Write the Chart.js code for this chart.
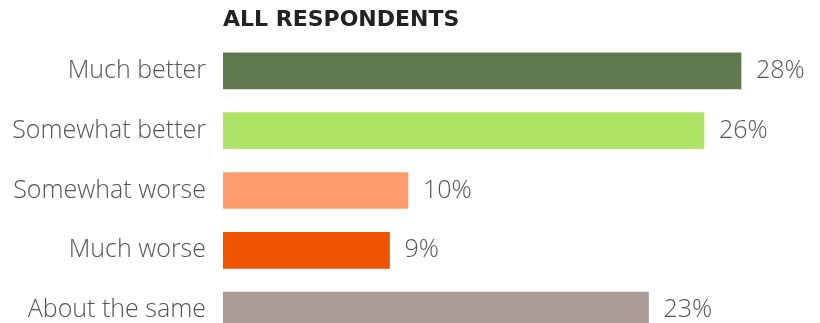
<!DOCTYPE html>
<html>
<head>
<meta charset="utf-8">
<script src="https://cdn.jsdelivr.net/npm/chart.js@4"></script>
<style>
  html, body { margin: 0; padding: 0; background: #fff; width: 820px; height: 323px; overflow: hidden; }
  canvas { display: block; }
</style>
</head>
<body>
<canvas id="chart" width="820" height="372"></canvas>
<script>
const categories = ['Much better', 'Somewhat better', 'Somewhat worse', 'Much worse', 'About the same'];
const shares = [28, 26, 10, 9, 23];
const barColors = ['#5f784e', '#aee365', '#ff9d6f', '#ee5400', '#ab9b96'];
const chartTitle = 'ALL RESPONDENTS';

const labelFont = { family: 'Open Sans', size: 25, weight: 300 };

// writes "NN%" just past the end of each bar
const valueLabels = {
  id: 'valueLabels',
  afterDatasetsDraw(chart) {
    const ctx = chart.ctx;
    const meta = chart.getDatasetMeta(0);
    ctx.save();
    ctx.font = labelFont.weight + ' ' + labelFont.size + 'px "' + labelFont.family + '"';
    ctx.fillStyle = '#555';
    ctx.textAlign = 'left';
    ctx.textBaseline = 'middle';
    meta.data.forEach((bar, i) => {
      ctx.fillText(shares[i] + '%', bar.x + 15, bar.y);
    });
    ctx.restore();
  }
};

new Chart(document.getElementById('chart'), {
  type: 'bar',
  data: {
    labels: categories,
    datasets: [{
      data: shares,
      backgroundColor: barColors,
      barThickness: 36
    }]
  },
  options: {
    indexAxis: 'y',
    responsive: false,
    animation: false,
    layout: { padding: { right: 5 } },
    plugins: {
      legend: { display: false },
      tooltip: { enabled: false },
      title: {
        display: true,
        text: chartTitle,
        align: 'start',
        fullSize: false,
        color: '#222',
        font: { family: 'DejaVu Sans', size: 22, weight: 'bold' },
        padding: { top: 7, bottom: 7.6 }
      }
    },
    scales: {
      x: {
        min: 0,
        max: 32,
        display: false
      },
      y: {
        // fixed label column so the bars start at the same x every time
        afterFit(scale) { scale.width = 223; },
        grid: { display: false, drawTicks: false },
        border: { display: false },
        ticks: {
          padding: 17,
          color: '#555',
          font: labelFont
        }
      }
    }
  },
  plugins: [valueLabels]
});
</script>
</body>
</html>
